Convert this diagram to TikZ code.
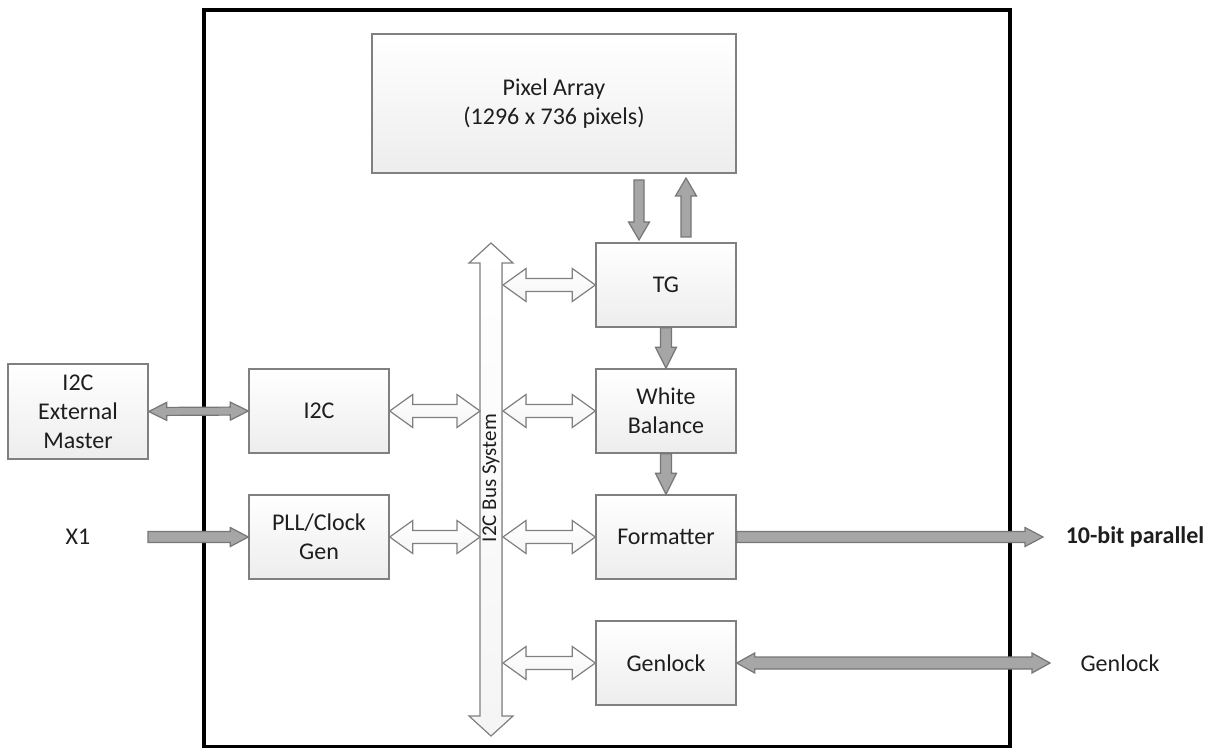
\documentclass[tikz,border=0pt]{standalone}
\usepackage{fontspec}
\setmainfont{Carlito}
\usetikzlibrary{calc}

% block arrows built from two named points
% #2 shaft half width, #3 head half width, #4 head length
\newcommand{\dblarrow}[6][]{%
  \filldraw[#1] (#5) -- ($(#5)!#4!(#6)!#3!90:(#6)$) -- ($(#5)!#4!(#6)!#2!90:(#6)$)
    -- ($(#6)!#4!(#5)!#2!-90:(#5)$) -- ($(#6)!#4!(#5)!#3!-90:(#5)$) -- (#6)
    -- ($(#6)!#4!(#5)!#3!90:(#5)$) -- ($(#6)!#4!(#5)!#2!90:(#5)$)
    -- ($(#5)!#4!(#6)!#2!-90:(#6)$) -- ($(#5)!#4!(#6)!#3!-90:(#6)$) -- cycle;}
\newcommand{\onearrow}[6][]{%
  \filldraw[#1] ($(#5)!#2!90:(#6)$) -- ($(#6)!#4!(#5)!#2!-90:(#5)$)
    -- ($(#6)!#4!(#5)!#3!-90:(#5)$) -- (#6) -- ($(#6)!#4!(#5)!#3!90:(#5)$)
    -- ($(#6)!#4!(#5)!#2!90:(#5)$) -- ($(#5)!#2!-90:(#6)$) -- cycle;}

\definecolor{boxline}{RGB}{128,128,128}
\definecolor{arrfill}{RGB}{166,166,166}
\definecolor{arrline}{RGB}{118,118,118}
\definecolor{txt}{RGB}{30,30,30}

\tikzset{
  block/.style={draw=boxline, line width=0.7pt, top color=white, bottom color=gray!14,
    minimum width=70pt, minimum height=42pt, align=center, text=txt,
    font=\fontsize{12}{14.5}\selectfont},
  hollow/.style={draw=boxline, line width=0.6pt, top color=white, bottom color=gray!8},
  solid/.style={draw=arrline, line width=0.6pt, fill=arrfill},
  lbl/.style={text=txt, font=\fontsize{12}{14.5}\selectfont}
}

\begin{document}
\begin{tikzpicture}[x=0.5pt,y=-0.5pt]
  \useasboundingbox (0,0) rectangle (1213,748);
  \draw[line width=2pt] (204,10) rectangle (1010,747);

  \node[block, minimum width=182pt, minimum height=69.5pt] (pix) at (554,103.5) {Pixel Array\\(1296 x 736 pixels)};
  \node[block] (tg) at (666,285) {TG};
  \node[block] (wb) at (666,411) {White\\Balance};
  \node[block] (fmt) at (666,537) {Formatter};
  \node[block] (gen) at (666,663) {Genlock};
  \node[block] (i2c) at (319,411) {I2C};
  \node[block] (pll) at (319,537) {PLL/Clock\\Gen};
  \node[block, minimum height=47.5pt] (ext) at (78,411.5) {I2C\\External\\Master};

  \node[lbl] (x1) at (78,537) {X1};
  \node[lbl, font=\fontsize{12}{14.5}\selectfont\bfseries] (par) at (1135,537) {10-bit parallel};
  \node[lbl] (genl) at (1120,663) {Genlock};

  % bus
  \coordinate (bustop) at (491,243);
  \coordinate (busbot) at (491,736);
  \dblarrow[hollow]{5.5pt}{11pt}{10pt}{bustop}{busbot}
  \node[text=txt, rotate=90, font=\fontsize{10.5}{12}\selectfont] (busname) at (491,478) {I2C Bus System};

  \coordinate (busR) at (503,0);
  \coordinate (busL) at (480,0);
  \foreach \n in {tg,wb,fmt,gen}{
    \dblarrow[hollow]{3.25pt}{8.25pt}{11.5pt}{busR |- \n.west}{\n.west}
  }
  \foreach \n in {i2c,pll}{
    \dblarrow[hollow]{3.25pt}{8.25pt}{11.5pt}{\n.east}{busL |- \n.east}
  }

  % gray arrows
  \coordinate (pixdn) at (639,180);
  \coordinate (tgin) at (639,240);
  \coordinate (tgout) at (686,237);
  \coordinate (pixup) at (686,178);
  \onearrow[solid]{2.5pt}{5.25pt}{9pt}{pixdn}{tgin}
  \onearrow[solid]{2.5pt}{5.25pt}{9pt}{tgout}{pixup}
  \onearrow[solid]{2.75pt}{5.25pt}{10.5pt}{tg.south}{wb.north}
  \onearrow[solid]{2.75pt}{5.25pt}{10.5pt}{wb.south}{fmt.north}

  \dblarrow[solid]{2pt}{4.5pt}{9pt}{ext.east}{i2c.west}
  \coordinate (x1out) at (148,537);
  \onearrow[solid]{2.75pt}{4.75pt}{9pt}{x1out}{pll.west}
  \coordinate (parin) at (1043,537);
  \onearrow[solid]{2.75pt}{4.75pt}{9pt}{fmt.east}{parin}
  \coordinate (genin) at (1050,663);
  \dblarrow[solid]{3pt}{5pt}{9pt}{gen.east}{genin}
\end{tikzpicture}
\end{document}
